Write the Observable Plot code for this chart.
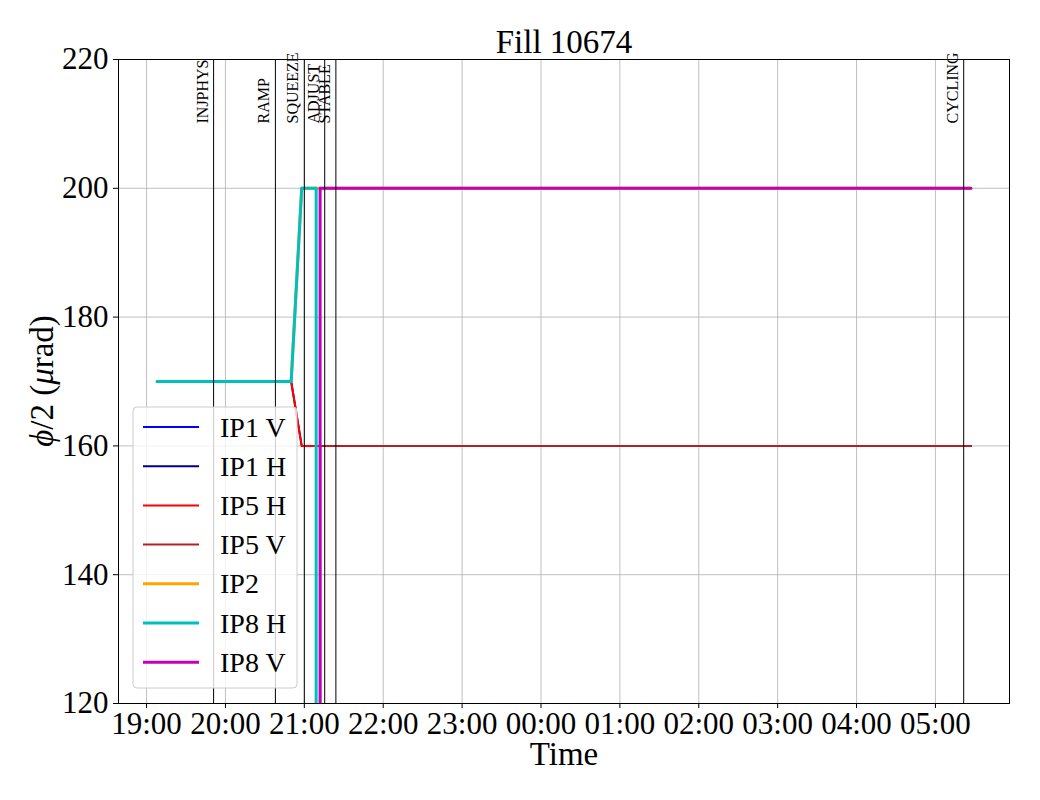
<!DOCTYPE html>
<html>
<head>
<meta charset="utf-8">
<script src="https://cdn.jsdelivr.net/npm/d3@7"></script>
<script src="https://cdn.jsdelivr.net/npm/@observablehq/plot@0.6"></script>
<style>
  body { margin: 0; background: #fff; }
  #chart { width: 1040px; height: 800px; }
</style>
</head>
<body>
<div id="chart"></div>
<script>
// ---- Data ----
const titleText = "Fill 10674";
const seriesNames  = ["IP1 V", "IP1 H", "IP5 H", "IP5 V", "IP2", "IP8 H", "IP8 V"];
const seriesColors = ["#0000ff", "#000080", "#ff0000", "#b22222", "#ffa500", "#00bfbf", "#bf00bf"];
const seriesWidths = [2, 2, 2, 2, 3, 3, 3];

const ip1vTimes  = ["19:08", "21:12", "21:12", "05:27"];
const ip1vValues = [0, 0, 160, 160];
const ip1hTimes  = ["19:08", "20:50", "20:58", "05:27"];
const ip1hValues = [170, 170, 160, 160];
const ip5hTimes  = ["19:08", "20:50", "20:58", "05:27"];
const ip5hValues = [170, 170, 160, 160];
const ip5vTimes  = ["19:08", "21:12", "21:12", "05:27"];
const ip5vValues = [0, 0, 160, 160];
const ip2Times   = ["19:08", "20:50", "20:58", "05:27"];
const ip2Values  = [170, 170, 200, 200];
const ip8hTimes  = ["19:08", "20:50", "20:58", "21:09", "21:09", "05:27"];
const ip8hValues = [170, 170, 200, 200, 0, 0];
const ip8vTimes  = ["19:08", "21:12", "21:12", "05:27"];
const ip8vValues = [0, 0, 200, 200];

const eventNames = ["INJPHYS", "RAMP", "SQUEEZE", "ADJUST", "STABLE", "CYCLING"];
const eventTimes = ["19:51", "20:38", "21:00", "21:15:30", "21:24", "05:21:30"];

const xTickLabels = ["19:00", "20:00", "21:00", "22:00", "23:00", "00:00", "01:00", "02:00", "03:00", "04:00", "05:00"];
const yTicks = [120, 140, 160, 180, 200, 220];
const xDomain = ["18:38:40", "05:56:20"];
const yDomain = [120, 220];

// ---- Helpers ----
function toDate(s) {
  const [h, m, sec] = s.split(":").map(Number);
  const day = h < 12 ? 21 : 20;
  return new Date(Date.UTC(2025, 4, day, h, m, sec || 0));
}
const seriesTimes  = [ip1vTimes, ip1hTimes, ip5hTimes, ip5vTimes, ip2Times, ip8hTimes, ip8vTimes];
const seriesValues = [ip1vValues, ip1hValues, ip5hValues, ip5vValues, ip2Values, ip8hValues, ip8vValues];
const seriesData = seriesNames.map((name, i) =>
  seriesTimes[i].map((t, j) => ({series: name, time: toDate(t), value: seriesValues[i][j]})));
const events = eventNames.map((n, i) => ({name: n, time: toDate(eventTimes[i])}));
const xTicks = xTickLabels.map(toDate);

const FONT = "'Liberation Serif', 'Times New Roman', 'DejaVu Serif', serif";

const plot = Plot.plot({
  width: 1040,
  height: 800,
  marginLeft: 118,
  marginRight: 31,
  marginTop: 59,
  marginBottom: 97,
  style: {fontFamily: FONT, background: "#fff", color: "black", overflow: "visible"},
  x: {type: "utc", domain: xDomain.map(toDate)},
  y: {domain: yDomain},
  marks: [
    Plot.gridX(xTicks, {stroke: "#b0b0b0", strokeOpacity: 1, strokeWidth: 0.8}),
    Plot.gridY(yTicks, {stroke: "#b0b0b0", strokeOpacity: 1, strokeWidth: 0.8}),
    ...seriesData.map((d, i) => Plot.line(d, {
      x: "time", y: "value", stroke: seriesColors[i], strokeWidth: seriesWidths[i],
      clip: true, strokeLinejoin: "round"
    })),
    Plot.ruleX(events, {x: "time", stroke: "black", strokeWidth: 1}),
    Plot.text(events, {
      x: "time", text: "name", frameAnchor: "top", dy: 64, dx: -6,
      rotate: -90, textAnchor: "start", lineAnchor: "bottom", fontSize: 16, fill: "black"
    }),
    Plot.frame({stroke: "black", strokeWidth: 1}),
    Plot.axisX({ticks: xTicks, tickFormat: d3.utcFormat("%H:%M"), fontSize: 31, tickSize: 5, tickPadding: 3, label: null, stroke: "black"}),
    Plot.axisY({ticks: yTicks, fontSize: 31, tickSize: 5, tickPadding: 5, label: null, stroke: "black"}),
    Plot.text([titleText], {frameAnchor: "top", dy: -7, lineAnchor: "bottom", fontSize: 33, fill: "black"}),
    Plot.text(["Time"], {frameAnchor: "bottom", dy: 61, lineAnchor: "bottom", fontSize: 33, fill: "black"})
  ]
});

document.getElementById("chart").appendChild(plot);

// ---- Y axis label with italic Greek ----
const svg = d3.select(plot);
const yl = svg.append("text")
  .attr("transform", "translate(53,381) rotate(-90)")
  .attr("text-anchor", "middle")
  .attr("font-size", 33)
  .attr("font-family", FONT)
  .attr("fill", "black");
yl.append("tspan").attr("font-style", "italic").text("ϕ");
yl.append("tspan").text("/2 (");
yl.append("tspan").attr("font-style", "italic").text("μ");
yl.append("tspan").text("rad)");

// ---- Legend ----
const lg = svg.append("g").attr("text-anchor", "start");
const lx = 133, ly = 407, lw = 164, lh = 281, rowH = 39.2, row0 = 427;
lg.append("rect")
  .attr("x", lx).attr("y", ly).attr("width", lw).attr("height", lh)
  .attr("rx", 4).attr("fill", "white").attr("fill-opacity", 0.8)
  .attr("stroke", "#cccccc").attr("stroke-width", 1);
seriesNames.forEach((name, i) => {
  const y = row0 + i * rowH;
  lg.append("line").attr("x1", 143).attr("x2", 199).attr("y1", y).attr("y2", y)
    .attr("stroke", seriesColors[i]).attr("stroke-width", seriesWidths[i]);
  lg.append("text").attr("x", 220).attr("y", y + 9.5).attr("text-anchor", "start")
    .attr("font-size", 28).attr("font-family", FONT).attr("fill", "black").text(name);
});
</script>
</body>
</html>
